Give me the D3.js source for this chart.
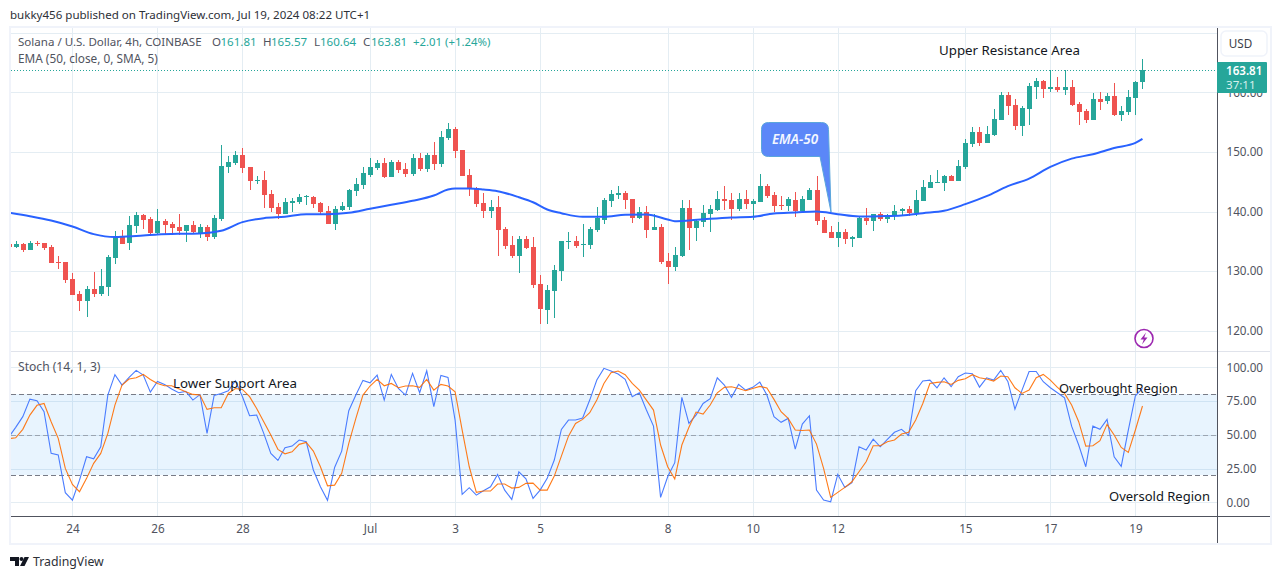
<!DOCTYPE html>
<html>
<head>
<meta charset="utf-8">
<script src="https://cdn.jsdelivr.net/npm/d3@7/dist/d3.min.js"></script>
<style>
html,body{margin:0;padding:0;background:#fff;overflow:hidden}
svg{display:block}
text{font-family:"Noto Sans",sans-serif}
</style>
</head>
<body>
<svg id="c" width="1281" height="579"></svg>
<script>
// Bars are 4h candles, numbered from Jun 24 00:00 = 0
const firstBar = -9;
const opens = [134.52,134.02,134.52,133.52,134.69,134.69,134.02,131.51,131.51,
128.66,126.14,124.97,126.98,126.14,127.32,132.18,135.87,134.69,137.54,
139.39,138.72,136.37,138.38,137.88,137.37,136.70,137.71,136.37,137.37,
135.70,138.72,147.43,148.10,149.44,147.43,145.08,145.25,142.91,140.73,
139.55,141.40,141.56,142.40,142.40,141.40,140.06,137.88,140.22,140.73,
143.41,144.41,146.09,147.26,148.10,145.75,148.27,147.10,146.26,148.94,
147.10,149.44,147.93,152.29,153.80,150.28,146.09,143.91,141.40,140.06,
140.73,137.04,134.36,132.51,135.36,134.02,127.82,123.46,126.65,130.00,
134.86,135.03,134.36,134.36,136.87,138.55,141.73,142.74,143.07,142.07,
138.88,139.89,136.87,137.37,131.68,130.67,132.51,140.56,137.21,138.21,
139.55,140.22,142.07,141.90,140.39,142.07,141.23,141.56,144.25,142.74,
141.06,140.89,141.90,140.06,141.90,143.58,138.55,136.54,135.53,136.54,
135.36,135.53,138.88,138.38,139.55,138.72,139.22,140.06,140.39,139.72,
141.73,143.91,144.75,144.75,145.92,145.08,147.43,151.29,153.30,151.45,
152.79,155.31,159.50,157.82,154.30,157.15,160.84,161.85,160.50,160.84,
160.34,160.84,157.99,156.82,155.31,158.83,158.49,159.33,156.15,156.65,
159.00,161.81];
const highs = [134.60,135.03,134.69,135.03,135.03,134.69,134.36,132.51,131.51,
129.66,126.65,127.49,129.83,130.33,132.68,136.70,136.87,139.22,139.89,
139.55,139.05,140.39,138.72,138.21,139.55,137.71,138.38,137.88,137.71,
139.39,151.12,149.27,150.11,150.62,147.43,145.92,146.76,143.58,141.40,
142.23,142.23,142.91,142.74,142.57,141.56,140.89,140.89,141.56,143.74,
145.59,147.43,148.94,148.60,148.94,148.60,148.60,148.10,149.61,149.78,
149.78,151.62,153.46,154.81,154.13,150.28,147.10,144.08,143.07,141.90,
142.57,137.37,135.87,135.87,135.87,135.70,129.33,127.65,131.00,135.03,
136.54,135.87,137.88,137.37,140.73,142.23,143.58,144.25,143.41,142.07,
140.73,140.89,139.55,137.88,133.02,134.02,141.90,141.90,138.55,141.06,
141.06,143.41,144.25,143.07,143.07,143.58,142.07,146.26,144.58,143.24,
142.57,142.40,143.24,142.57,143.91,145.92,139.05,137.54,138.21,137.04,
135.87,139.05,140.56,139.55,139.89,139.55,141.06,140.56,140.89,143.58,
145.25,146.09,146.93,146.09,146.09,148.60,152.12,154.13,154.13,154.30,
157.15,160.00,160.00,158.83,157.65,161.51,162.35,162.01,163.69,162.52,
163.69,162.01,158.33,157.15,159.83,160.00,159.83,161.51,157.65,160.34,
161.85,165.57];
const lows = [134.00,133.85,133.18,133.52,134.19,133.52,131.34,130.33,127.99,
125.98,123.29,122.29,125.64,125.81,125.81,131.17,134.52,133.52,136.37,
137.04,135.87,136.03,136.20,136.03,136.03,134.86,136.20,135.53,135.03,
135.36,138.38,146.43,147.77,146.43,143.58,144.58,140.56,139.89,138.72,
139.55,139.89,141.23,141.06,140.56,139.39,137.88,136.87,140.06,140.22,
142.57,143.74,145.75,146.93,145.59,145.75,146.43,145.75,145.92,146.76,
146.59,146.93,147.43,151.96,148.94,145.92,142.57,140.73,138.88,138.88,
132.51,133.69,132.18,129.66,133.69,127.15,121.11,121.11,122.12,128.32,
133.69,133.85,132.35,133.69,136.54,137.88,140.73,142.07,140.39,138.04,
138.72,135.53,136.87,131.17,127.82,130.00,132.35,133.52,135.03,137.37,
136.54,140.06,140.22,138.55,140.06,140.39,138.55,141.56,142.23,139.89,
140.22,140.06,139.05,139.89,141.90,137.71,136.37,135.53,134.02,134.52,
134.02,135.53,137.71,136.70,138.38,138.04,138.55,139.22,139.22,139.22,
141.73,143.91,144.75,143.41,145.08,145.08,147.10,150.78,150.95,151.45,
152.63,155.31,156.15,153.63,152.63,154.47,158.83,159.00,160.00,160.00,
159.50,157.65,154.47,154.81,155.31,156.98,157.99,155.98,155.14,156.15,
156.15,160.64];
const closes = [134.08,134.52,133.52,134.69,134.52,133.85,131.34,131.34,128.49,
125.98,124.97,126.98,126.14,127.49,132.35,135.87,134.52,137.71,139.39,
138.55,136.37,138.38,137.71,137.21,136.70,137.71,136.54,137.37,135.70,
138.88,147.60,148.27,149.44,147.26,145.08,145.25,142.74,140.56,139.55,
141.56,141.73,142.40,142.57,141.23,139.89,137.88,140.39,140.89,143.58,
144.58,146.43,147.43,148.10,145.75,148.27,146.93,146.26,148.94,147.10,
149.44,147.93,152.46,153.80,150.11,145.92,143.74,141.23,140.06,140.73,
136.87,134.19,132.51,135.36,133.85,127.65,123.63,126.81,130.17,135.03,
135.03,134.19,134.52,137.04,138.88,141.90,142.91,143.07,141.90,138.88,
139.89,136.87,137.37,131.51,130.67,132.68,140.56,137.21,138.38,139.72,
140.39,142.07,141.73,140.39,142.07,141.23,141.73,144.25,142.57,140.89,
140.89,142.07,140.06,142.07,143.58,138.38,136.37,135.53,136.54,135.36,
135.70,138.88,138.38,139.55,138.72,139.22,140.06,140.39,139.72,141.90,
144.08,144.92,144.92,145.92,145.08,147.60,151.45,153.30,151.45,152.96,
155.48,159.50,157.65,154.30,157.32,161.01,161.85,160.50,160.84,160.34,
160.84,157.82,156.65,155.31,158.83,158.33,159.33,156.15,156.82,159.16,
161.68,163.81];

const emaBars = [-9,-6,-3,0,3,6,9,12,15,18,21,24,27,30,33,36,39,42,45,48,51,53,54,56,58,60,63,65,67,69,72,75,78,81,84,85,87,90,93,96,99,102,105,108,111,114,117,120,123,126,129,132,135,138,141,144,147,150,151];
const emaValues = [139.83,139.22,138.49,137.49,136.20,135.70,135.87,136.14,136.26,136.31,136.76,138.21,138.88,139.11,139.55,139.55,139.78,140.45,141.12,141.79,142.68,143.69,143.86,143.86,143.69,143.41,142.40,141.56,140.33,139.72,139.11,139.11,139.44,139.50,138.66,138.38,138.49,138.77,138.99,139.11,139.66,139.83,140.00,139.55,139.16,139.22,139.33,139.72,140.11,141.23,142.57,144.25,145.53,147.49,148.88,149.61,150.67,151.51,152.18];

const stochK = [48.1,55.6,63.5,76.5,75.3,67.2,36.3,35.1,7.2,
1.7,16.5,33.8,32.3,41.2,79.5,94.6,86.9,92.6,97.8,
94.3,81.7,89.6,87.4,84.0,81.2,82.2,75.8,79.8,51.1,
79.3,80.7,82.7,90.1,78.3,64.2,64.7,51.1,36.3,31.1,
40.5,41.7,46.2,44.9,24.0,11.6,1.5,25.9,38.0,67.9,
79.5,90.4,88.6,94.3,75.8,94.8,84.4,79.5,95.6,81.2,
97.5,70.9,94.1,92.6,61.0,5.9,10.9,5.4,8.6,11.6,
20.7,9.1,2.2,22.7,17.5,3.0,9.1,17.8,31.4,54.1,
61.0,61.0,62.5,75.8,90.6,99.3,97.3,95.1,91.1,78.3,
81.2,68.4,56.5,3.7,19.0,29.4,77.8,58.5,64.7,73.3,
76.8,92.3,86.9,77.8,87.4,83.2,85.2,89.1,79.5,63.5,
59.3,62.2,39.5,58.0,64.2,9.1,1.7,0.5,20.7,11.1,
14.6,41.2,38.8,46.9,41.2,46.7,51.9,54.1,49.6,82.7,
89.9,90.6,84.9,92.3,85.7,93.1,95.8,95.3,85.4,92.3,
90.6,97.8,89.6,69.1,83.2,97.0,97.0,89.4,84.9,81.2,
77.5,56.5,42.5,26.4,56.5,54.1,61.5,33.8,26.7,53.6,
79.0,84.4];
const stochD = [47.2,47.9,54.1,64.7,71.9,73.3,59.8,47.4,25.2,
13.3,7.9,17.8,28.9,36.3,51.1,72.1,86.9,91.4,92.3,
94.8,91.1,88.1,86.4,86.4,84.2,82.0,80.0,79.5,68.9,
70.1,70.1,80.7,84.4,83.7,78.3,69.6,59.8,49.9,39.3,
36.0,37.5,43.0,44.4,38.0,26.4,12.3,12.8,21.5,43.7,
62.2,79.5,86.2,91.1,86.4,88.1,84.9,86.2,86.4,85.2,
91.1,83.2,87.4,86.2,82.0,53.6,26.4,7.4,8.4,8.4,
13.6,13.6,10.6,11.1,14.1,14.3,9.1,9.1,19.5,34.3,
49.1,58.5,61.5,66.4,75.8,88.1,96.0,97.3,94.6,88.1,
83.2,75.8,68.4,42.5,26.4,17.3,42.5,55.6,66.9,65.4,
72.1,81.2,85.2,85.7,84.4,82.7,84.4,85.9,84.7,76.3,
67.2,62.2,53.6,53.3,53.6,43.2,25.2,3.7,7.4,11.1,
15.3,22.7,30.1,42.0,42.0,44.9,46.2,50.6,51.9,61.0,
73.3,88.1,88.9,89.4,87.4,90.4,91.6,94.6,92.3,91.4,
89.9,93.6,93.1,84.9,80.7,83.2,92.3,94.8,90.6,85.2,
80.7,72.1,59.8,41.7,42.0,45.7,57.8,49.9,40.7,37.0,
53.6,71.4];

const priceTicks = [120,130,140,150,160,170];
const priceLabels = [120,130,140,150,160];
const stochTicks = [0,25,50,75,100];
const stochLevels = [20,50,80];
const tickBars = [0,12,24,42,54,66,84,96,108,126,138,150];
const tickNames = ["24","26","28","Jul","3","5","8","10","12","15","17","19"];
const lastPrice = 163.81, countdown = "37:11";

const GREEN="#26a69a", RED="#ef5350", GRID="#e4edf3", AXIS="#50535e", TXT="#131722", FRAME="#f0f3fa";
const L=11, R=1217;
const x = d3.scaleLinear().domain([0,150]).range([72.4,1135.4]);
const y = d3.scaleLinear().domain([120,160]).range([330.6,92.4]);
const s = d3.scaleLinear().domain([0,100]).range([502.4,367.4]);

const svg = d3.select("#c");
svg.append("clipPath").attr("id","plot").append("rect")
  .attr("x",L).attr("y",28).attr("width",R-L).attr("height",488);

const bars = opens.map((o,k)=>({i:firstBar+k,o,h:highs[k],l:lows[k],c:closes[k]}));

// grid
const g = svg.append("g").attr("shape-rendering","crispEdges");
g.selectAll(".v").data(tickBars).join("line")
  .attr("x1",d=>Math.round(x(d))+.5).attr("x2",d=>Math.round(x(d))+.5)
  .attr("y1",28).attr("y2",516).attr("stroke",GRID);
g.selectAll(".h").data(priceTicks).join("line")
  .attr("x1",L).attr("x2",R).attr("y1",d=>Math.round(y(d))+.5).attr("y2",d=>Math.round(y(d))+.5).attr("stroke",GRID);
g.selectAll(".h2").data(stochTicks).join("line")
  .attr("x1",L).attr("x2",R).attr("y1",d=>Math.round(s(d))+.5).attr("y2",d=>Math.round(s(d))+.5).attr("stroke",GRID);

// stoch band
svg.append("rect").attr("x",L).attr("width",R-L).attr("y",s(80)).attr("height",s(20)-s(80))
  .attr("fill","#2196f3").attr("fill-opacity",.1).attr("shape-rendering","crispEdges");
svg.selectAll(".lvl").data(stochLevels).join("line")
  .attr("x1",L).attr("x2",R).attr("y1",d=>Math.round(s(d))+.5).attr("y2",d=>Math.round(s(d))+.5)
  .attr("stroke","#787b86").attr("stroke-opacity",d=>d===50?.6:1).attr("stroke-dasharray","5,3").attr("shape-rendering","crispEdges");

// price line
svg.append("line").attr("x1",L).attr("x2",R).attr("y1",Math.round(y(lastPrice))+.5).attr("y2",Math.round(y(lastPrice))+.5)
  .attr("stroke",GREEN).attr("stroke-dasharray","1,2").attr("shape-rendering","crispEdges");

// candles
const cg = svg.append("g").attr("clip-path","url(#plot)").attr("shape-rendering","crispEdges");
cg.selectAll(".w").data(bars).join("rect")
  .attr("x",d=>Math.round(x(d.i))).attr("width",1)
  .attr("y",d=>Math.round(y(d.h))).attr("height",d=>Math.max(1,Math.round(y(d.l))-Math.round(y(d.h))))
  .attr("fill",d=>d.c>=d.o?GREEN:RED);
cg.selectAll(".b").data(bars).join("rect")
  .attr("x",d=>Math.round(x(d.i))-2).attr("width",5)
  .attr("y",d=>Math.round(y(Math.max(d.o,d.c)))).attr("height",d=>Math.max(1,Math.round(y(Math.min(d.o,d.c)))-Math.round(y(Math.max(d.o,d.c)))))
  .attr("fill",d=>d.c>=d.o?GREEN:RED);

// EMA
const pl = svg.append("g").attr("clip-path","url(#plot)");
pl.append("path").datum(emaBars.map((b,k)=>[b,emaValues[k]]))
  .attr("fill","none").attr("stroke","#2962ff").attr("stroke-width",2)
  .attr("d",d3.line().x(d=>x(d[0])).y(d=>y(d[1])).curve(d3.curveMonotoneX));

// Stochastic
const sl = d3.line().x((d,k)=>x(firstBar+k)).y(d=>s(d));
pl.append("path").datum(stochK).attr("fill","none").attr("stroke","#4a7cff").attr("stroke-width",1.1).attr("d",sl);
pl.append("path").datum(stochD).attr("fill","none").attr("stroke","#ff6d00").attr("stroke-opacity",.9).attr("stroke-width",1.1).attr("d",sl);

// axes
function styleAxis(a){a.select(".domain").remove();a.selectAll("line").remove();
  a.selectAll("text").attr("fill",AXIS).style("font-size","11.7px").style("font-family",'"Noto Sans",sans-serif');}
svg.append("g").attr("transform",`translate(${R},0)`)
  .call(d3.axisRight(y).tickValues(priceLabels).tickSize(0).tickPadding(9.5).tickFormat(d3.format(".2f"))).call(styleAxis);
svg.append("g").attr("transform",`translate(${R},0)`)
  .call(d3.axisRight(s).tickValues(stochTicks).tickSize(0).tickPadding(9.5).tickFormat(d3.format(".2f"))).call(styleAxis);
svg.append("g").attr("transform","translate(0,516)")
  .call(d3.axisBottom(x).tickValues(tickBars).tickSize(0).tickPadding(9).tickFormat((d,k)=>tickNames[k])).call(styleAxis);

// structure lines
const st = svg.append("g").attr("shape-rendering","crispEdges");
st.append("rect").attr("x",10).attr("y",27).attr("width",1261).attr("height",517).attr("fill","none").attr("stroke",FRAME).attr("stroke-width",2);
st.append("line").attr("x1",L).attr("x2",1270).attr("y1",351.5).attr("y2",351.5).attr("stroke","#e0e3eb").attr("stroke-width",1);
st.append("line").attr("x1",L).attr("x2",1270).attr("y1",516.5).attr("y2",516.5).attr("stroke",AXIS);
st.append("line").attr("x1",1217.5).attr("x2",1217.5).attr("y1",28).attr("y2",543).attr("stroke",AXIS);

// price tag
svg.append("rect").attr("x",1217).attr("y",62).attr("width",50).attr("height",31).attr("fill",GREEN).attr("rx",1);
svg.append("text").attr("x",1226).attr("y",75).attr("fill","#fff").style("font-size","11.6px").style("font-weight",600).text(lastPrice.toFixed(2));
svg.append("text").attr("x",1226).attr("y",89).attr("fill","#d6f0ed").style("font-size","11.6px").text(countdown);

// USD button
svg.append("rect").attr("x",1221).attr("y",31).attr("width",46).attr("height",25).attr("rx",5).attr("fill","#fff").attr("stroke",FRAME).attr("stroke-width",1.5);
svg.append("text").attr("x",1240.5).attr("y",48).attr("text-anchor","middle").attr("fill","#3c3f49").style("font-size","11.7px").text("USD");

// header texts
function t(xp,yp,str,size,fill,anchor){return svg.append("text").attr("x",xp).attr("y",yp).attr("fill",fill).attr("text-anchor",anchor||"start").style("font-size",size+"px").text(str);}
t(10,19,"bukky456 published on TradingView.com, Jul 19, 2024 08:22 UTC+1",11.55,"#2e3138");
const lg="#50535e";
t(18,46,"Solana / U.S. Dollar, 4h, COINBASE",11.55,lg);
const ohlcLetters=["O","H","L","C"], ohlcValues=["161.81","165.57","160.64","163.81"];
const lx=[212,263,314,363], vx=[220.5,271,320,371];
ohlcLetters.forEach((c,k)=>{t(lx[k],46,c,11.55,lg);t(vx[k],46,ohlcValues[k],11.55,GREEN);});
t(413,46,"+2.01 (+1.24%)",11.4,GREEN);
t(18,63,"EMA (50, close, 0, SMA, 5)",11.8,lg);
t(18,371,"Stoch (14, 1, 3)",12.1,lg);

// annotations
t(939,55,"Upper Resistance Area",13.3,TXT);
t(173,388,"Lower Support Area",13.3,TXT);
t(1059,393,"Overbought Region",12.85,TXT);
t(1109,501,"Oversold Region",13,TXT);

// EMA-50 callout
const calloutX0=761.5, calloutX1=828.5, calloutY0=122.5, calloutY1=156.5, calloutR=7, tailBase=820, tailX=831, tailY=212;
const px=d3.path();
px.moveTo(calloutX0+calloutR,calloutY0);px.lineTo(calloutX1-calloutR,calloutY0);px.quadraticCurveTo(calloutX1,calloutY0,calloutX1,calloutY0+calloutR);
px.lineTo(tailX,tailY);px.lineTo(tailBase,calloutY1);
px.lineTo(calloutX0+calloutR,calloutY1);px.quadraticCurveTo(calloutX0,calloutY1,calloutX0,calloutY1-calloutR);
px.lineTo(calloutX0,calloutY0+calloutR);px.quadraticCurveTo(calloutX0,calloutY0,calloutX0+calloutR,calloutY0);px.closePath();
svg.append("path").attr("d",px.toString()).attr("fill","#5b87f8").attr("stroke","#5aa6dc").attr("stroke-width",1);
svg.append("text").attr("x",795).attr("y",144).attr("text-anchor","middle").attr("fill","#f4f7ff").style("font-size","13.5px").style("font-style","italic").style("font-weight",600).text("EMA-50");

// bolt badge
svg.append("circle").attr("cx",1144).attr("cy",338.5).attr("r",9).attr("fill","#fff").attr("stroke","#9c27b0").attr("stroke-width",1.6);
svg.append("path").attr("d","M1146 332.5 L1140.5 339.5 L1143.8 339.5 L1142 344.5 L1147.5 337.5 L1144.2 337.5 Z").attr("fill","#9c27b0");

// logo
svg.append("path").attr("d","M10 557 H19 V566 H15 V561 H10 Z M24.5 557 H29 L24.5 566 H20 Z").attr("fill","#131722");
svg.append("circle").attr("cx",21.5).attr("cy",559).attr("r",2).attr("fill","#131722");
t(33,566,"TradingView",12.3,"#2e3138");
</script>
</body>
</html>
